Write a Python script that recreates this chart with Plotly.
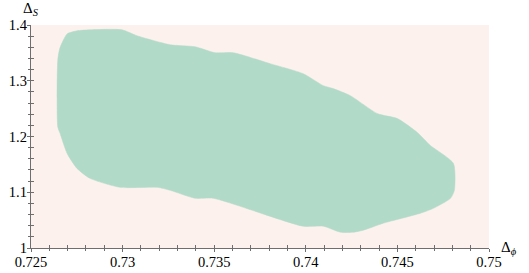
import plotly.graph_objects as go

# Region boundary (Delta_phi, Delta_S), traced clockwise
dphi = [0.72646, 0.72646, 0.72658, 0.72697, 0.72751, 0.72822, 0.72997, 0.73079,
        0.73260, 0.73396, 0.73505, 0.73604, 0.73806, 0.73986, 0.74096, 0.74150,
        0.74243, 0.74391, 0.74500, 0.74609, 0.74680, 0.74806, 0.74811, 0.74790,
        0.74697, 0.74626, 0.74423, 0.74314, 0.74260, 0.74189, 0.74096, 0.73986,
        0.73495, 0.73396, 0.73260, 0.73189, 0.72986, 0.72822, 0.72751, 0.72697,
        0.72658]
ds = [1.2170, 1.3369, 1.3590, 1.3840, 1.3896, 1.3914, 1.3914, 1.3807,
      1.3646, 1.3610, 1.3503, 1.3503, 1.3306, 1.3127, 1.2912, 1.2859,
      1.2733, 1.2411, 1.2322, 1.2072, 1.1839, 1.1517, 1.1034, 1.0891,
      1.0712, 1.0623, 1.0444, 1.0319, 1.0283, 1.0283, 1.0390, 1.0390,
      1.0891, 1.0891, 1.1034, 1.1088, 1.1088, 1.1249, 1.1428, 1.1696,
      1.2061]

x_ticks = [0.725, 0.73, 0.735, 0.74, 0.745, 0.75]
x_labels = ["0.725", "0.73", "0.735", "0.74", "0.745", "0.75"]
y_ticks = [1.0, 1.1, 1.2, 1.3, 1.4]
y_labels = ["1", "1.1", "1.2", "1.3", "1.4"]

FONT = "Liberation Serif, DejaVu Serif, serif"
AX = "#6e6e6e"

fig = go.Figure()
fig.add_trace(go.Scatter(
    x=dphi + [dphi[0]], y=ds + [ds[0]], mode="lines", fill="toself",
    fillcolor="#b2dac8", line=dict(color="#b2dac8", width=0.5, shape="spline", smoothing=0.6),
    hoverinfo="skip", showlegend=False))

common = dict(showgrid=False, zeroline=False, showline=True, linecolor=AX, linewidth=1.3,
              tickcolor=AX, tickwidth=1, ticklen=3, automargin=False)
fig.update_layout(
    width=529, height=273,
    margin=dict(l=31, r=40, t=25, b=25),
    paper_bgcolor="white", plot_bgcolor="#fdf1ed",
    font=dict(family=FONT, size=14.5, color="black"),
    xaxis=dict(range=[0.725, 0.75], tickvals=x_ticks, ticktext=x_labels, ticks="inside",
               minor=dict(dtick=0.001, ticks="inside", ticklen=2.5, tickcolor=AX, tickwidth=0.8),
               **common),
    yaxis=dict(range=[1.0, 1.4], tickvals=y_ticks, ticktext=y_labels, ticks="inside",
               minor=dict(dtick=0.02, ticks="inside", ticklen=2.5, tickcolor=AX, tickwidth=0.8),
               **common),
    xaxis2=dict(range=[0.725, 0.75], overlaying="x", anchor="y", side="bottom",
                tickvals=x_ticks, showticklabels=False, ticks="outside",
                minor=dict(dtick=0.001, ticks="outside", ticklen=2, tickcolor=AX, tickwidth=0.8),
                **common),
    yaxis2=dict(range=[1.0, 1.4], overlaying="y", anchor="x", side="left",
                tickvals=y_ticks, showticklabels=False, ticks="outside",
                minor=dict(dtick=0.02, ticks="outside", ticklen=2, tickcolor=AX, tickwidth=0.8),
                **common),
)
fig.add_trace(go.Scatter(x=[None], y=[None], xaxis="x2", yaxis="y2", showlegend=False))

fig.add_annotation(text="Δ<sub><i>ϕ</i></sub>", xref="paper", yref="paper", x=1.0, y=0.0,
                   xanchor="left", yanchor="middle", xshift=10, yshift=0, showarrow=False,
                   font=dict(size=15, family=FONT))
fig.add_annotation(text="Δ<sub><i>S</i></sub>", xref="paper", yref="paper", x=0.0, y=1.0,
                   xanchor="center", yanchor="bottom", xshift=0, yshift=5, showarrow=False,
                   font=dict(size=15, family=FONT))

fig.write_html("out.html", config={"displayModeBar": False},
               post_script="document.body.style.margin='0';document.body.style.overflow='hidden';")
